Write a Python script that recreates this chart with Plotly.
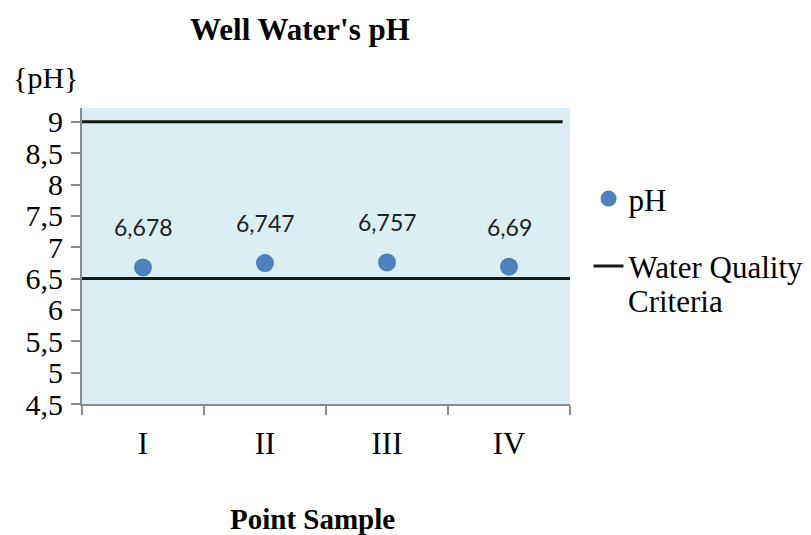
import plotly.graph_objects as go

categories = ["I", "II", "III", "IV"]
ph_values = [6.678, 6.747, 6.757, 6.69]
criteria_low = 6.5
criteria_high = 9.0
y_ticks = [4.5, 5, 5.5, 6, 6.5, 7, 7.5, 8, 8.5, 9]

xpos = [i + 1 for i in range(len(categories))]
serif = "Liberation Serif"

fig = go.Figure()
fig.add_trace(go.Scatter(
    x=xpos, y=ph_values, mode="markers", name="pH",
    marker=dict(color="#4F81BD", size=18),
    legendgroup="a", cliponaxis=False,
))
fig.add_trace(go.Scatter(
    x=[0.42, 4.44, None, 0.47, 4.5],
    y=[criteria_high, criteria_high, None, criteria_low, criteria_low],
    mode="lines", name="Water Quality",
    line=dict(color="#1a1a1a", width=3),
    legendgroup="b", cliponaxis=False,
))

for x, v in zip(xpos, ph_values):
    fig.add_annotation(
        x=x, y=v, text=str(v).replace(".", ","), showarrow=False,
        yshift=40, font=dict(family="Lato", size=23, color="#222222"),
    )

fig.update_layout(
    width=811, height=535,
    margin=dict(l=74, r=249, t=100, b=139, autoexpand=False),
    paper_bgcolor="white",
    plot_bgcolor="#DAEEF3",
    separators=",.",
    title=dict(text="<b>Well Water's pH</b>", x=0.36, xanchor="center",
               y=0.961, yanchor="middle",
               font=dict(family=serif, size=31, color="black")),
    showlegend=True,
    legend=dict(x=1.038, y=0.784, xanchor="left", yanchor="top",
                font=dict(family=serif, size=31, color="black"),
                tracegroupgap=24, traceorder="grouped", valign="top",
                bgcolor="rgba(0,0,0,0)"),
    xaxis=dict(
        range=[0.5, 4.5], tickvals=xpos, ticktext=categories,
        ticks="", showgrid=False, zeroline=False,
        showline=True, linecolor="#8c8c8c", linewidth=2,
        tickfont=dict(family=serif, size=31, color="black"),
        ticklabelstandoff=11,
        minor=dict(tickvals=[0.5, 1.5, 2.5, 3.5, 4.5], ticks="outside",
                   ticklen=9, tickcolor="#8c8c8c", tickwidth=2, showgrid=False),
    ),
    yaxis=dict(
        range=[4.5, 9.22], tickvals=y_ticks,
        ticks="outside", ticklen=9, tickcolor="#8c8c8c", tickwidth=2,
        showgrid=False, zeroline=False,
        showline=True, linecolor="#8c8c8c", linewidth=2,
        tickfont=dict(family=serif, size=30, color="black"),
        ticklabelstandoff=2,
    ),
)

fig.add_annotation(
    text="{pH}", xref="paper", yref="paper", x=-0.1455, y=1.103,
    xanchor="left", yanchor="middle", showarrow=False,
    font=dict(family=serif, size=30, color="black"),
)
fig.add_annotation(
    text="<b>Point Sample</b>", xref="paper", yref="paper", x=0.473, y=-0.39,
    xanchor="center", yanchor="middle", showarrow=False,
    font=dict(family=serif, size=29, color="black"),
)
fig.add_annotation(
    text="Criteria", xref="paper", yref="paper", x=1.115, y=0.345,
    xanchor="left", yanchor="middle", showarrow=False,
    font=dict(family=serif, size=31, color="black"),
)

fig.write_html("out.html")
